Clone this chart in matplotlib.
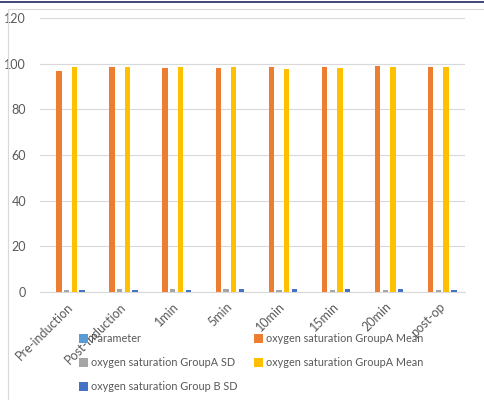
import numpy as np
import matplotlib.pyplot as plt
from matplotlib.lines import Line2D
from matplotlib.patches import Rectangle

plt.rcParams['font.family'] = ['Lato', 'DejaVu Sans']

categories = ['Pre-induction', 'Post-induction', '1min', '5min',
              '10min', '15min', '20min', 'post-op']
parameter = [0, 0, 0, 0, 0, 0, 0, 0]
groupA_mean = [97.0, 98.4, 98.1, 98.1, 98.4, 98.6, 98.9, 98.6]
groupA_sd = [1.0, 1.4, 1.3, 1.3, 1.0, 0.7, 1.0, 0.7]
groupB_mean = [98.5, 98.5, 98.4, 98.4, 97.8, 98.1, 98.4, 98.6]
groupB_sd = [1.0, 1.0, 1.0, 1.4, 1.4, 1.3, 1.3, 1.0]

series = [
    ('Parameter', parameter, '#5B9BD5'),
    ('oxygen saturation GroupA Mean', groupA_mean, '#ED7D31'),
    ('oxygen saturation GroupA SD', groupA_sd, '#A5A5A5'),
    ('oxygen saturation GroupA Mean', groupB_mean, '#FFC000'),
    ('oxygen saturation Group B SD', groupB_sd, '#4472C4'),
]

fig = plt.figure(figsize=(4.84, 4.0), dpi=100)

# outer chart frame and the dark rule above it
fig.add_artist(Line2D([0, 1], [0.996, 0.996], color='#1F2A5C', lw=1.2))
fig.add_artist(Rectangle((8 / 484, -0.05), 1.0, 0.9275 + 0.05 + 0.05,
                         fill=False, edgecolor='#D9D9D9', lw=0.8,
                         transform=fig.transFigure))

ax = fig.add_axes([40 / 484, 1 - 292 / 400, 425 / 484, 274 / 400])

x = np.arange(len(categories))
step = 0.145
width = 0.1
handles = []
for i, (name, vals, color) in enumerate(series):
    b = ax.bar(x + (i - 2) * step, vals, width, color=color, label=name,
               zorder=3)
    handles.append(b)

ax.set_xlim(-0.5, len(categories) - 0.5)
ax.set_ylim(0, 120)
ax.set_yticks(range(0, 121, 20))
ax.yaxis.grid(True, color='#D9D9D9', lw=0.8, zorder=0)
for s in ['top', 'right', 'left']:
    ax.spines[s].set_visible(False)
ax.spines['bottom'].set_color('#D9D9D9')
ax.tick_params(axis='both', length=0, colors='#595959', labelsize=9)
ax.tick_params(axis='y', pad=10)
ax.set_xticks(x)
ax.set_xticklabels(categories, rotation=45, ha='right',
                   rotation_mode='anchor')
ax.tick_params(axis='x', pad=6)

# legend filled column-wise, so reorder to read row by row
order = [0, 2, 4, 1, 3]
leg = fig.legend([handles[i] for i in order],
                 [series[i][0] for i in order],
                 loc='upper left', bbox_to_anchor=(75 / 484, 1 - 329 / 400),
                 ncol=2, frameon=False, fontsize=7.8, handlelength=0.8,
                 handleheight=0.8, handletextpad=0.3, columnspacing=1.5,
                 labelspacing=1.2, labelcolor='#595959', borderaxespad=0)

fig.savefig('out.png', dpi=100)
